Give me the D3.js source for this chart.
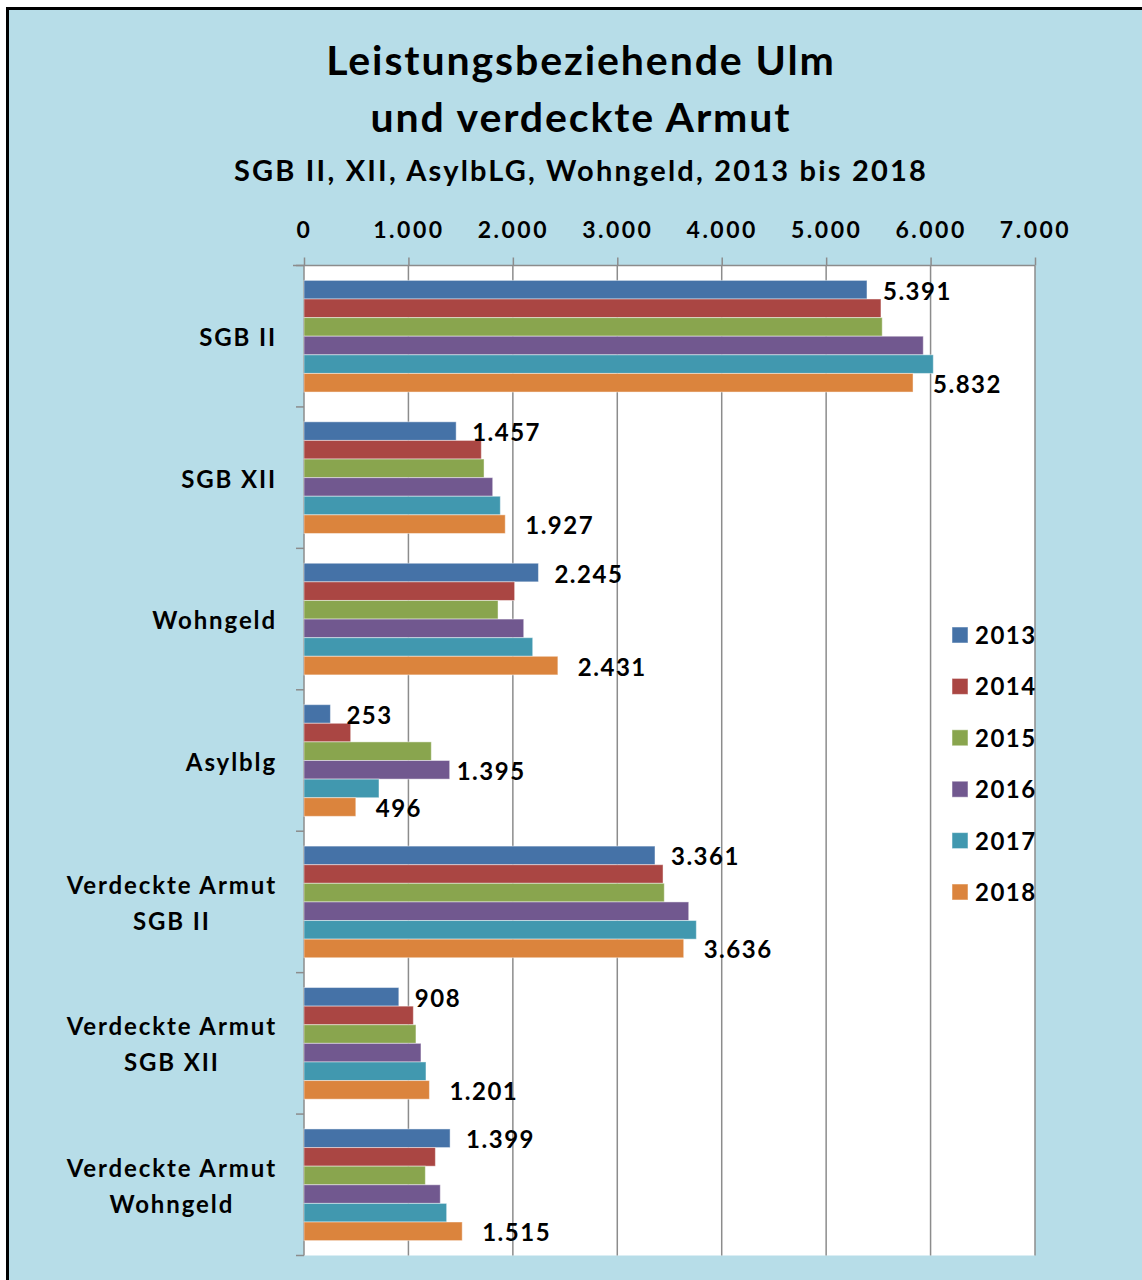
<!DOCTYPE html>
<html>
<head>
<meta charset="utf-8">
<script src="https://cdn.jsdelivr.net/npm/d3@7"></script>
<style>
  body { margin: 0; background: #fff; }
  text { font-family: Lato, "Open Sans", sans-serif; font-weight: bold; fill: #000; }
</style>
</head>
<body>
<svg id="chart" width="1142" height="1280"></svg>
<script>
// Data
const categories = ["SGB II", "SGB XII", "Wohngeld", "Asylblg",
                    "Verdeckte Armut\nSGB II", "Verdeckte Armut\nSGB XII", "Verdeckte Armut\nWohngeld"];
const years = ["2013", "2014", "2015", "2016", "2017", "2018"];

const v2013 = [5391, 1457, 2245, 253, 3361, 908, 1399];
const v2014 = [5525, 1698, 2017, 447, 3438, 1047, 1258];
const v2015 = [5537, 1724, 1858, 1219, 3450, 1072, 1162];
const v2016 = [5930, 1807, 2104, 1395, 3684, 1120, 1305];
const v2017 = [6026, 1880, 2190, 718, 3757, 1168, 1366];
const v2018 = [5832, 1927, 2431, 496, 3636, 1201, 1515];

// which bars carry a value label
const labelled = ["2013", "2018"];
const extraLabels = [["Asylblg", "2016"]];

const xTicks = [0, 1000, 2000, 3000, 4000, 5000, 6000, 7000];
const colors = ["#4572A7", "#AA4643", "#89A54E", "#71588F", "#4198AF", "#DB843D"];

const series = [v2013, v2014, v2015, v2016, v2017, v2018];
const rows = [];
categories.forEach((c, i) => {
    years.forEach((y, j) => rows.push({cat: c, year: y, value: series[j][i]}));
});

const svg = d3.select("#chart");
const fmt = d3.formatLocale({decimal: ",", thousands: ".", grouping: [3], currency: ["", "€"]}).format(",d");

// background + frame
svg.append("rect").attr("width", 1142).attr("height", 1280).attr("fill", "#fff");
svg.append("rect")
    .attr("x", 7.5).attr("y", 8.5).attr("width", 1150).attr("height", 1290)
    .attr("fill", "#B7DDE8").attr("stroke", "#000").attr("stroke-width", 3);

// titles
svg.append("text").attr("x", 581).attr("y", 75).attr("text-anchor", "middle")
    .style("font-size", "41px").style("letter-spacing", "1.9px").text("Leistungsbeziehende Ulm");
svg.append("text").attr("x", 581).attr("y", 132).attr("text-anchor", "middle")
    .style("font-size", "41px").style("letter-spacing", "1.9px").text("und verdeckte Armut");
svg.append("text").attr("x", 581).attr("y", 181).attr("text-anchor", "middle")
    .style("font-size", "29px").style("letter-spacing", "2.2px")
    .text("SGB II, XII, AsylbLG, Wohngeld, 2013 bis 2018");

// plot area
const plotLeft = 304, plotRight = 1035, plotTop = 265.5, plotBottom = 1255.5;

const x = d3.scaleLinear().domain([0, 7000]).range([plotLeft, plotRight]);
const y = d3.scaleBand().domain(categories).range([plotTop, plotBottom]);
const yInner = d3.scaleBand().domain(years).range([0, y.bandwidth()]).paddingOuter(0.8);

svg.append("rect")
    .attr("x", plotLeft).attr("y", plotTop)
    .attr("width", plotRight - plotLeft).attr("height", plotBottom - plotTop)
    .attr("fill", "#fff");

// gridlines
svg.append("g").selectAll("line")
    .data(xTicks.slice(1))
    .join("line")
    .attr("x1", d => x(d)).attr("x2", d => x(d))
    .attr("y1", plotTop).attr("y2", plotBottom)
    .attr("stroke", "#8c8c8c").attr("stroke-width", 1.5);

// top axis
const xAxis = svg.append("g")
    .attr("transform", `translate(0,${plotTop})`)
    .call(d3.axisTop(x).tickValues(xTicks).tickFormat(fmt).tickSize(8).tickPadding(20));
xAxis.select(".domain").attr("stroke", "#8c8c8c").attr("stroke-width", 1.5)
    .attr("d", `M${plotLeft - 11},0H${plotRight}`);
xAxis.selectAll(".tick line").attr("stroke", "#8c8c8c").attr("stroke-width", 1.5);
xAxis.selectAll(".tick text").style("font-size", "23px").style("letter-spacing", "2.5px")
    .style("font-family", "Lato, sans-serif").style("font-weight", "bold").attr("fill", "#000");

// left axis (category boundaries)
svg.append("line").attr("x1", plotLeft).attr("x2", plotLeft)
    .attr("y1", plotTop).attr("y2", plotBottom)
    .attr("stroke", "#8c8c8c").attr("stroke-width", 1.5);
svg.append("g").selectAll("line")
    .data(categories.map(c => y(c)).concat([plotBottom]))
    .join("line")
    .attr("x1", plotLeft - 8).attr("x2", plotLeft)
    .attr("y1", d => d).attr("y2", d => d)
    .attr("stroke", "#8c8c8c").attr("stroke-width", 1.5);

// bars
svg.append("g").selectAll("rect")
    .data(rows)
    .join("rect")
    .attr("x", plotLeft)
    .attr("y", d => y(d.cat) + yInner(d.year))
    .attr("width", d => x(d.value) - plotLeft)
    .attr("height", yInner.bandwidth())
    .attr("fill", d => colors[years.indexOf(d.year)])
    .attr("stroke", "rgba(255,255,255,0.45)").attr("stroke-width", 1);

// data labels
const isLabelled = d => labelled.includes(d.year) ||
    extraLabels.some(e => e[0] === d.cat && e[1] === d.year);
svg.append("g").selectAll("text")
    .data(rows.filter(isLabelled))
    .join("text")
    .attr("x", d => x(d.value) + (d.year === "2018" ? 20 : d.year === "2013" ? 16 : 7))
    .attr("y", d => y(d.cat) + yInner(d.year) + yInner.bandwidth() / 2 + 10)
    .style("font-size", "24px").style("letter-spacing", "1.5px")
    .text(d => fmt(d.value));

// category labels (multi-line centred, block right aligned)
categories.forEach(c => {
    const lines = c.split("\n");
    const g = svg.append("g");
    const cy = y(c) + y.bandwidth() / 2;
    const lh = 36;
    const t = lines.map((l, i) => g.append("text")
        .attr("y", cy + 10 + (i - (lines.length - 1) / 2) * lh)
        .style("font-size", "24px").style("letter-spacing", "1.9px")
        .text(l));
    const w = d3.max(t, s => s.node().getComputedTextLength());
    t.forEach(s => s.attr("x", 277 - w / 2).attr("text-anchor", "middle"));
});

// legend
const legend = svg.append("g").selectAll("g")
    .data(years)
    .join("g")
    .attr("transform", (d, i) => `translate(952,${635 + i * 51.4})`);
legend.append("rect")
    .attr("x", 0).attr("y", -8).attr("width", 16).attr("height", 16)
    .attr("fill", (d, i) => colors[i])
    .attr("stroke", "rgba(255,255,255,0.5)");
legend.append("text")
    .attr("x", 23).attr("y", 9)
    .style("font-size", "24px").style("letter-spacing", "1.5px")
    .text(d => d);
</script>
</body>
</html>
